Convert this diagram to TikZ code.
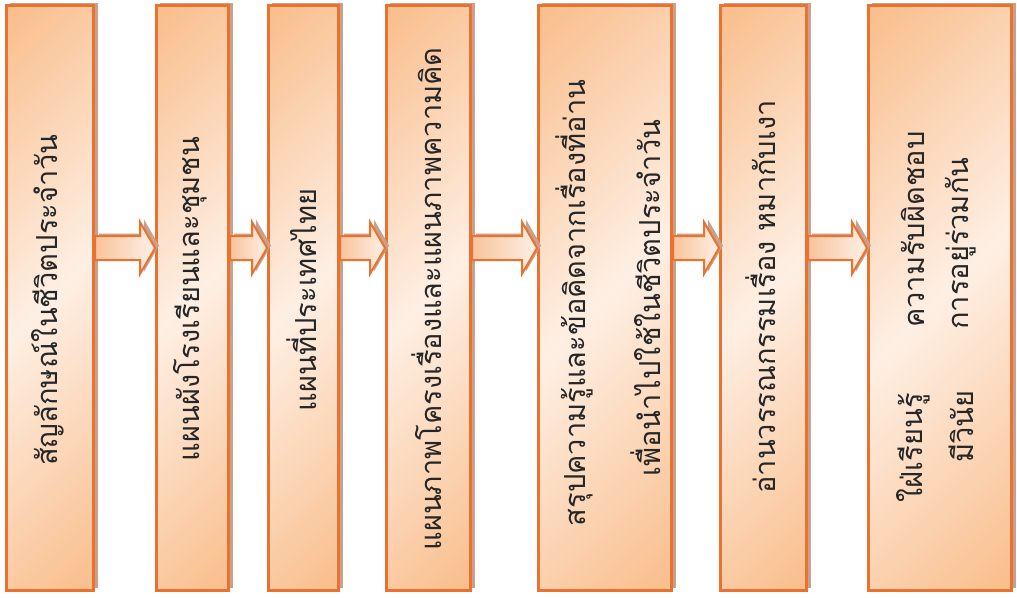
\documentclass[tikz,border=0pt]{standalone}
\usepackage{fontspec}
\newfontfamily\thaifont[Script=Thai]{Loma}
\usetikzlibrary{calc,shadows}
\definecolor{edgeorange}{HTML}{EA7231}
\definecolor{peachdark}{HTML}{F9BF8E}
\definecolor{peachlight}{HTML}{FEEFE4}
\definecolor{shadowc}{HTML}{C9A08B}
\definecolor{arrowdark}{HTML}{F8C39B}
\definecolor{arrowlight}{HTML}{FEF0E6}
\definecolor{textc}{HTML}{262626}
\pgfdeclareverticalshading{boxshade}{100bp}{%
  color(0bp)=(peachdark); color(16bp)=(peachdark);
  color(50bp)=(peachlight);
  color(84bp)=(peachdark); color(100bp)=(peachdark)}
\tikzset{
  box/.style={draw=edgeorange, line width=2.6pt, inner sep=0pt,
    shade, shading=boxshade, shading angle=45, minimum height=585.4pt,
    general shadow={fill=shadowc, shadow xshift=4pt, shadow yshift=2.5pt}},
  arrowshape/.style={draw=edgeorange, line width=2pt, line join=miter,
    left color=arrowdark, right color=arrowlight,
    general shadow={fill=shadowc, shadow xshift=4pt, shadow yshift=2.5pt}},
  lbl/.style={font=\thaifont\fontsize{29}{34}\selectfont, rotate=90,
    inner sep=0pt, text=textc},
}
\newcommand{\flowarrow}[2]{%
  \path[arrowshape] ($(#1.east)+(0,-62)$) -- ($(#2.west)+(-15,-62)$)
    -- ($(#2.west)+(-15,-76)$) -- ($(#2.west)+(0,-50)$)
    -- ($(#2.west)+(-15,-24)$) -- ($(#2.west)+(-15,-38)$)
    -- ($(#1.east)+(0,-38)$) -- cycle;}
\begin{document}
\begin{tikzpicture}[x=1pt,y=-1pt]
\useasboundingbox (0,0) rectangle (1017,597);
\fill[white] (0,0) rectangle (1017,597);
% boxes
\node[box, minimum width=87.4pt]  (b1) at (50,298) {};
\node[box, minimum width=72.4pt]  (b2) at (192.5,298) {};
\node[box, minimum width=70.4pt]  (b3) at (303.5,298) {};
\node[box, minimum width=84.4pt]  (b4) at (428.5,298) {};
\node[box, minimum width=133.4pt] (b5) at (605,298) {};
\node[box, minimum width=86.4pt]  (b6) at (763.5,298) {};
\node[box, minimum width=143.4pt] (b7) at (940,298) {};
% arrows
\flowarrow{b1}{b2}
\flowarrow{b2}{b3}
\flowarrow{b3}{b4}
\flowarrow{b4}{b5}
\flowarrow{b5}{b6}
\flowarrow{b6}{b7}
% labels
\node[lbl] (t1) at ($(b1.center)+(-2,2)$) {สัญลักษณ์ในชีวิตประจำวัน};
\node[lbl] (t2) at ($(b2.center)+(-2,1)$) {แผนผังโรงเรียนและชุมชน};
\node[lbl] (t3) at ($(b3.center)+(-2,2)$) {แผนที่ประเทศไทย};
\node[lbl] (t4) at ($(b4.center)+(-2,1)$) {แผนภาพโครงเรื่องและแผนภาพความคิด};
\node[lbl] (t5a) at ($(b5.center)+(-31,5)$) {สรุปความรู้และข้อคิดจากเรื่องที่อ่าน};
\node[lbl] (t5b) at ($(b5.center)+(41,0)$) {เพื่อนำไปใช้ในชีวิตประจำวัน};
\node[lbl] (t6) at ($(b6.center)+(-3,-1)$) {อ่านวรรณกรรมเรื่อง หมากับเงา};
\node[lbl, anchor=east] (t7a) at ($(b7.center)+(-27,95)$) {ใฝ่เรียนรู้};
\node[lbl, anchor=west] (t7b) at ($(b7.center)+(-27,30)$) {ความรับผิดชอบ};
\node[lbl, anchor=east] (t7c) at ($(b7.center)+(21,92)$) {มีวินัย};
\node[lbl, anchor=west] (t7d) at ($(b7.center)+(21,32)$) {การอยู่ร่วมกัน};
\end{tikzpicture}
\end{document}
